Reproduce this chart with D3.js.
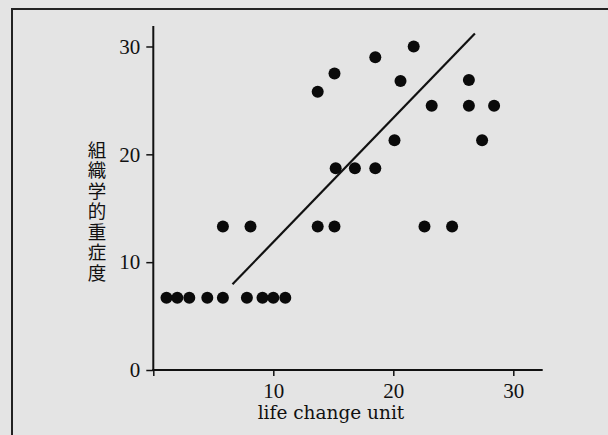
<!DOCTYPE html>
<html>
<head>
<meta charset="utf-8">
<script src="https://cdn.jsdelivr.net/npm/d3@7"></script>
<style>
  body { margin: 0; background: #e4e4e4; }
</style>
</head>
<body>
<div></div>
<script>
var width = 608;
var height = 435;

// dati
var lcu = [1.1, 2.0, 3.0, 4.5, 5.8, 7.8, 9.1, 10.0, 11.0,
           5.8, 8.1, 13.7, 15.1, 22.6, 24.9,
           15.2, 16.8, 18.5,
           20.1, 27.4,
           23.2, 26.3, 28.4,
           13.7, 15.1, 20.6, 26.3,
           18.5, 21.7];
var severity = [6.7, 6.7, 6.7, 6.7, 6.7, 6.7, 6.7, 6.7, 6.7,
                13.3, 13.3, 13.3, 13.3, 13.3, 13.3,
                18.7, 18.7, 18.7,
                21.3, 21.3,
                24.5, 24.5, 24.5,
                25.8, 27.5, 26.8, 26.9,
                29.0, 30.0];
// retta di regressione (estremi)
var fitX = [6.6, 26.8];
var fitY = [7.95, 31.2];

var xTicks = [10, 20, 30];
var yTicks = [0, 10, 20, 30];
var yLabel = ["組", "織", "学", "的", "重", "症", "度"];
var xLabel = "life change unit";

var svg = d3.select("div")
            .append("svg")
            .attr("width", width)
            .attr("height", height)
            .style("display", "block");

svg.append("rect")
   .attr("width", width)
   .attr("height", height)
   .attr("fill", "#e4e4e4");

// cornice (solo lato sinistro e superiore visibili)
svg.append("path")
   .attr("d", "M12," + height + "V9H" + width)
   .attr("fill", "none")
   .attr("stroke", "#222")
   .attr("stroke-width", 2);

var x = d3.scaleLinear().domain([0, 32.45]).range([153.3, 542.7]);
var y = d3.scaleLinear().domain([0, 31.9]).range([370, 26]);

var xAxis = svg.append("g")
               .attr("transform", "translate(0," + y(0) + ")")
               .call(d3.axisBottom(x).tickValues([0].concat(xTicks)).tickSize(6).tickFormat(function(d) { return d === 0 ? "" : d; }));

var yAxis = svg.append("g")
               .attr("transform", "translate(" + x(0) + ",0)")
               .call(d3.axisLeft(y).tickValues(yTicks).tickSize(7).tickPadding(6));

[xAxis, yAxis].forEach(function(a) {
    a.select(".domain")
     .attr("stroke", "#111")
     .attr("stroke-width", 2);
    a.selectAll(".tick line")
     .attr("stroke", "#111")
     .attr("stroke-width", 1.5);
    a.selectAll(".tick text")
     .attr("fill", "#111")
     .style("font-family", "'Liberation Serif', serif")
     .style("font-size", "21px");
});

// linee degli assi disegnate a mano per farle sporgere un po'
xAxis.select(".domain").attr("d", "M" + (x(0) - 1) + ",0H" + x(32.45));
yAxis.select(".domain").attr("d", "M0," + (y(0) + 1) + "V" + y(31.9));

xAxis.selectAll(".tick text").attr("dy", "0.9em");

svg.append("line")
   .attr("x1", x(fitX[0]))
   .attr("y1", y(fitY[0]))
   .attr("x2", x(fitX[1]))
   .attr("y2", y(fitY[1]))
   .attr("stroke", "#111")
   .attr("stroke-width", 2.2);

svg.append("g")
   .selectAll("circle")
   .data(lcu)
   .enter()
   .append("circle")
   .attr("cx", function(d) { return x(d); })
   .attr("cy", function(d, i) { return y(severity[i]); })
   .attr("r", 6)
   .attr("fill", "#0a0a0a");

svg.append("text")
   .attr("x", 331)
   .attr("y", 419)
   .attr("text-anchor", "middle")
   .style("font-family", "'DejaVu Serif', serif")
   .style("font-size", "18.5px")
   .attr("fill", "#111")
   .text(xLabel);

// etichetta verticale dell'asse y, un carattere per riga
svg.append("g")
   .selectAll("text")
   .data(yLabel)
   .enter()
   .append("text")
   .attr("x", 97)
   .attr("y", function(d, i) { return 156.5 + i * 20.5; })
   .attr("text-anchor", "middle")
   .style("font-family", "'Noto Sans CJK JP', sans-serif")
   .style("font-size", "18.5px")
   .attr("fill", "#111")
   .text(function(d) { return d; });
</script>
</body>
</html>
